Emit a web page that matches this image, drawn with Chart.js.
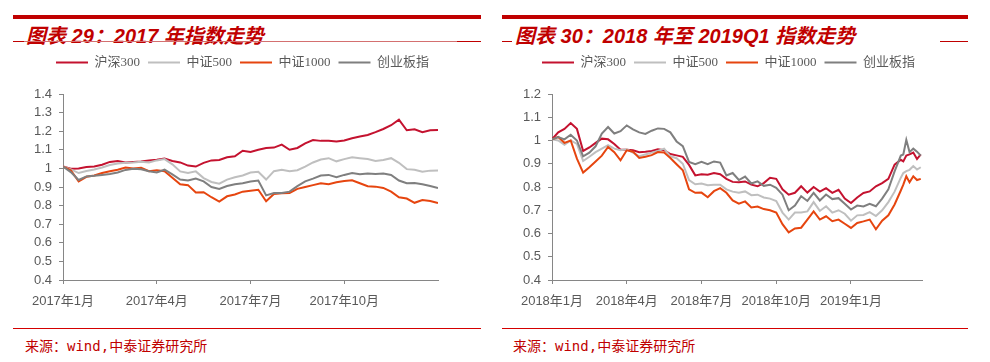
<!DOCTYPE html>
<html lang="zh-CN">
<head>
<meta charset="utf-8">
<script src="https://cdn.jsdelivr.net/npm/chart.js@4.4.1/dist/chart.umd.min.js"></script>
<style>
  html, body { margin: 0; padding: 0; background: #fff; }
  body { width: 990px; height: 362px; position: relative; overflow: hidden; }
  .bar-top { position: absolute; top: 15px; height: 4px; background: #c00000; }
  .rule { position: absolute; height: 1px; }
  .title {
    position: absolute; top: 20px; line-height: 20px;
    font: italic bold 20px "Liberation Sans", "Noto Sans CJK SC", sans-serif;
    color: #c00000; white-space: nowrap;
  }
  .source {
    position: absolute; top: 335px; line-height: 16px;
    font: 14px "DejaVu Sans Mono", "Noto Sans CJK SC", monospace;
    color: #c00000; white-space: nowrap;
  }
  canvas { position: absolute; top: 48px; }
</style>
</head>
<body>
  <!-- left panel frame -->
  <div class="bar-top" style="left:13px;width:468px"></div>
  <div class="title" style="left:26px">图表 29：2017 年指数走势</div>
  <div class="rule" style="top:41px;left:13px;width:11px;background:#c00000"></div>
  <div class="rule" style="top:41px;left:24px;width:433px;background:#d47070"></div>
  <div class="rule" style="top:41px;left:457px;width:24px;background:#c00000"></div>
  <canvas id="chart2017" width="495" height="262" style="left:0"></canvas>
  <div class="rule" style="top:328px;left:13px;width:468px;background:#d40000"></div>
  <div class="source" style="left:25px">来源：wind,中泰证券研究所</div>

  <!-- right panel frame -->
  <div class="bar-top" style="left:502px;width:466px"></div>
  <div class="title" style="left:515px">图表 30：2018 年至 2019Q1 指数走势</div>
  <div class="rule" style="top:41px;left:502px;width:10px;background:#c00000"></div>
  <div class="rule" style="top:41px;left:940px;width:28px;background:#c00000"></div>
  <canvas id="chart2018" width="495" height="262" style="left:495px"></canvas>
  <div class="rule" style="top:328px;left:502px;width:466px;background:#d40000"></div>
  <div class="source" style="left:513px">来源：wind,中泰证券研究所</div>

<script>
// ---------- Data: 2017 (x = months since 2017-01-01) ----------
const months2017 = [0, 0.25, 0.5, 0.75, 1, 1.25, 1.5, 1.75, 2, 2.25, 2.5, 2.75, 3, 3.25, 3.5, 3.75,
  4, 4.25, 4.5, 4.75, 5, 5.25, 5.5, 5.75, 6, 6.25, 6.5, 6.75, 7, 7.25, 7.5, 7.75,
  8, 8.25, 8.5, 8.75, 9, 9.25, 9.5, 9.75, 10, 10.25, 10.5, 10.75, 11, 11.25, 11.5, 11.75, 12];

const hs300_2017 = [1.01, 0.998, 1.0, 1.008, 1.01, 1.02, 1.035, 1.04, 1.032, 1.035, 1.037, 1.042, 1.046, 1.053, 1.04, 1.032,
  1.015, 1.01, 1.03, 1.043, 1.045, 1.06, 1.065, 1.095, 1.088, 1.1, 1.11, 1.112, 1.128, 1.1, 1.11, 1.135,
  1.152, 1.148, 1.148, 1.145, 1.15, 1.162, 1.172, 1.18, 1.195, 1.212, 1.232, 1.262, 1.205, 1.21, 1.195, 1.205, 1.207];
const zz500_2017 = [1.01, 0.995, 0.975, 0.986, 0.994, 1.005, 1.018, 1.026, 1.03, 1.032, 1.036, 1.032, 1.043, 1.05, 1.022, 0.984,
  0.976, 0.984, 0.948, 0.927, 0.918, 0.94, 0.952, 0.962, 0.978, 0.982, 0.94, 0.985, 0.993, 0.985, 0.99, 1.01,
  1.032, 1.048, 1.055, 1.038, 1.05, 1.06, 1.055, 1.05, 1.04, 1.045, 1.055, 1.03, 0.996, 0.993, 0.982, 0.988, 0.989];
const zz1000_2017 = [1.01, 0.99, 0.93, 0.955, 0.962, 0.975, 0.985, 0.993, 1.005, 1.0, 1.003, 0.985, 0.99, 0.985, 0.95, 0.915,
  0.91, 0.87, 0.872, 0.845, 0.822, 0.85, 0.86, 0.875, 0.88, 0.885, 0.823, 0.862, 0.866, 0.868, 0.89, 0.9,
  0.91, 0.92, 0.915, 0.925, 0.932, 0.936, 0.92, 0.904, 0.902, 0.895, 0.875, 0.845, 0.838, 0.815, 0.83, 0.825, 0.814];
const cyb_2017 = [1.01, 0.98, 0.938, 0.957, 0.96, 0.965, 0.97, 0.978, 0.992, 0.998, 0.995, 0.985, 0.978, 0.993, 0.968, 0.94,
  0.935, 0.945, 0.93, 0.9, 0.89, 0.905, 0.915, 0.92, 0.93, 0.935, 0.855, 0.868, 0.868, 0.875, 0.905, 0.93,
  0.945, 0.962, 0.965, 0.952, 0.965, 0.975, 0.968, 0.972, 0.97, 0.972, 0.965, 0.935, 0.92, 0.922, 0.915, 0.905, 0.895];

const ticks2017 = [0, 3, 6, 9];
const tickLabels2017 = ["2017年1月", "2017年4月", "2017年7月", "2017年10月"];

// ---------- Data: 2018 - 2019Q1 (x = months since 2018-01-01) ----------
const months2018 = [0, 0.25, 0.5, 0.75, 1, 1.25, 1.5, 1.75, 2, 2.25, 2.5, 2.75, 3, 3.25, 3.5, 3.75,
  4, 4.25, 4.5, 4.75, 5, 5.25, 5.5, 5.75, 6, 6.25, 6.5, 6.75, 7, 7.25, 7.5, 7.75,
  8, 8.25, 8.5, 8.75, 9, 9.25, 9.5, 9.75, 10, 10.25, 10.5, 10.75, 11, 11.25, 11.5, 11.75,
  12, 12.25, 12.5, 12.75, 13, 13.25, 13.5, 13.75, 14, 14.1, 14.22, 14.35, 14.5, 14.65, 14.8];

const hs300_2018 = [1.005, 1.035, 1.05, 1.075, 1.05, 0.955, 0.97, 0.99, 1.008, 1.005, 0.985, 0.96, 0.96, 0.958, 0.95, 0.952,
  0.955, 0.962, 0.958, 0.942, 0.936, 0.93, 0.895, 0.85, 0.855, 0.853, 0.86, 0.855, 0.835, 0.822, 0.82, 0.824,
  0.81, 0.803, 0.817, 0.84, 0.835, 0.79, 0.767, 0.775, 0.803, 0.776, 0.8, 0.78, 0.795, 0.775, 0.788, 0.75,
  0.731, 0.755, 0.774, 0.781, 0.803, 0.817, 0.835, 0.896, 0.917, 0.91, 0.935, 0.94, 0.948, 0.92, 0.94];
const zz500_2018 = [1.005, 1.0, 0.982, 1.0, 0.985, 0.912, 0.93, 0.95, 0.965, 0.98, 0.965, 0.958, 0.962, 0.948, 0.932, 0.94,
  0.948, 0.955, 0.965, 0.932, 0.924, 0.9, 0.83, 0.812, 0.815, 0.808, 0.81, 0.81, 0.79, 0.78, 0.775, 0.781,
  0.765, 0.767, 0.755, 0.75, 0.74, 0.69, 0.66, 0.69, 0.69, 0.695, 0.735, 0.697, 0.717, 0.69, 0.7, 0.685,
  0.655, 0.678, 0.68, 0.692, 0.675, 0.7, 0.735, 0.78, 0.84, 0.86, 0.868, 0.874, 0.89, 0.875, 0.885];
const zz1000_2018 = [1.005, 1.015, 0.99, 1.0, 0.922, 0.862, 0.885, 0.91, 0.935, 0.972, 0.95, 0.915, 0.958, 0.952, 0.925, 0.93,
  0.937, 0.95, 0.948, 0.925, 0.898, 0.872, 0.79, 0.775, 0.776, 0.756, 0.782, 0.795, 0.775, 0.742, 0.728, 0.738,
  0.712, 0.716, 0.705, 0.7, 0.69, 0.64, 0.605, 0.622, 0.625, 0.66, 0.695, 0.66, 0.674, 0.653, 0.66, 0.642,
  0.624, 0.645, 0.652, 0.66, 0.618, 0.655, 0.678, 0.725, 0.785, 0.81, 0.846, 0.82, 0.846, 0.83, 0.835];
const cyb_2018 = [1.005, 1.015, 1.005, 1.025, 1.0, 0.932, 0.948, 0.975, 1.03, 1.058, 1.03, 1.04, 1.065, 1.048, 1.035, 1.028,
  1.042, 1.052, 1.05, 1.035, 0.996, 0.976, 0.908, 0.898, 0.908, 0.898, 0.91, 0.905, 0.85, 0.86, 0.83, 0.845,
  0.815, 0.824, 0.805, 0.81, 0.796, 0.767, 0.7, 0.72, 0.76, 0.74, 0.775, 0.742, 0.768, 0.748, 0.752, 0.728,
  0.703, 0.72, 0.716, 0.728, 0.717, 0.75, 0.79, 0.867, 0.935, 0.94, 1.003, 0.95, 0.965, 0.952, 0.935];

const ticks2018 = [0, 3, 6, 9, 12];
const tickLabels2018 = ["2018年1月", "2018年4月", "2018年7月", "2018年10月", "2019年1月"];

const seriesNames = ["沪深300", "中证500", "中证1000", "创业板指"];
const seriesColors = ["#c4122f", "#bfbfbf", "#e6450f", "#7f7f7f"];

// ---------- Helpers ----------
const axisColor = "#868686";
const textColor = "#595959";

function toPoints(xs, ys) {
  return xs.map((x, i) => ({ x, y: ys[i] }));
}

// extra room under the legend row, and centre the row where the original has it
const legendPlace = {
  id: "legendPlace",
  beforeInit(chart) {
    const fit = chart.legend.fit;
    chart.legend.fit = function () {
      fit.bind(chart.legend)();
      this.height += 15;
    };
  },
  afterLayout(chart, args, opts) {
    const legend = chart.legend;
    legend.left = 0;
    legend.right = opts.center * 2;
  }
};

function makeChart(canvasId, months, series, cfg) {
  const ctx = document.getElementById(canvasId).getContext("2d");
  return new Chart(ctx, {
    type: "line",
    data: {
      datasets: series.map((vals, i) => ({
        label: seriesNames[i],
        data: toPoints(months, vals),
        borderColor: seriesColors[i],
        backgroundColor: seriesColors[i],
        borderWidth: 2,
        pointRadius: 0,
        tension: 0,
        order: series.length - i
      }))
    },
    options: {
      responsive: false,
      animation: false,
      devicePixelRatio: 1,
      layout: { padding: { left: 0, right: cfg.padRight, top: 0, bottom: 0 } },
      plugins: {
        tooltip: { enabled: false },
        legendPlace: { center: cfg.legendCenter },
        legend: {
          position: "top",
          labels: {
            usePointStyle: true,
            pointStyle: "line",
            pointStyleWidth: 32,
            padding: 8,
            color: textColor,
            font: { family: '"Liberation Serif", "Noto Sans CJK SC", serif', size: 13 },
            sort: (a, b) => a.datasetIndex - b.datasetIndex
          }
        }
      },
      scales: {
        x: {
          type: "linear",
          min: 0,
          max: cfg.xMax,
          border: { display: true, color: axisColor },
          grid: { display: true, drawOnChartArea: false, tickLength: 4, color: axisColor },
          afterBuildTicks: (scale) => {
            scale.ticks = cfg.ticks.map((v) => ({ value: v }));
          },
          afterFit: (scale) => { scale.height = 30; },
          ticks: {
            autoSkip: false,
            maxRotation: 0,
            padding: 10,
            color: textColor,
            font: { family: '"Liberation Sans", "Noto Sans CJK SC", sans-serif', size: 13 },
            callback: (v, i) => cfg.tickLabels[i]
          }
        },
        y: {
          min: 0.4,
          max: cfg.yMax,
          border: { display: true, color: axisColor },
          grid: { display: true, drawOnChartArea: false, tickLength: 4, color: axisColor },
          afterFit: (scale) => { scale.width = cfg.yWidth; },
          ticks: {
            stepSize: 0.1,
            padding: 7,
            color: textColor,
            font: { family: '"Liberation Sans", sans-serif', size: 13 },
            callback: (v) => String(Number(v.toFixed(1)))
          }
        }
      }
    },
    plugins: [legendPlace]
  });
}

// ---------- Charts ----------
makeChart("chart2017", months2017, [hs300_2017, zz500_2017, zz1000_2017, cyb_2017], {
  padRight: 57, yWidth: 63, xMax: 12, yMax: 1.4, legendCenter: 242.5,
  ticks: ticks2017, tickLabels: tickLabels2017
});

makeChart("chart2018", months2018, [hs300_2018, zz500_2018, zz1000_2018, cyb_2018], {
  padRight: 68, yWidth: 57, xMax: 14.85, yMax: 1.2, legendCenter: 233.5,
  ticks: ticks2018, tickLabels: tickLabels2018
});
</script>
</body>
</html>
